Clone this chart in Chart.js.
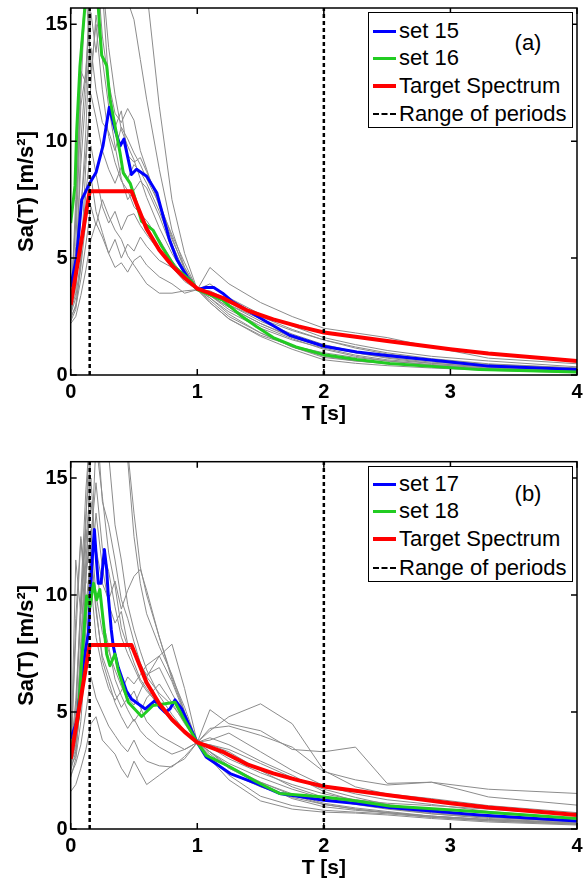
<!DOCTYPE html>
<html>
<head>
<meta charset="utf-8">
<script src="https://cdn.jsdelivr.net/npm/chart.js@4.4.0/dist/chart.umd.min.js"></script>
<style>
  body { margin: 0; background: #fff; width: 583px; height: 884px; position: relative; overflow: hidden;
         font-family: "Liberation Sans", Arial, sans-serif; }
  .panel { position: absolute; left: 0; width: 583px; }
  #panelA { top: 0; height: 427px; }
  #panelB { top: 440px; height: 441px; }
  .legend { position: absolute; left: 368px; width: 205px; height: 116px; border: 1.5px solid #000;
            box-sizing: border-box; background: #fff; font-size: 22px; color: #000; }
  .row { position: absolute; left: 4px; height: 28px; line-height: 28px; white-space: nowrap; }
  .swatch { display: inline-block; width: 23px; vertical-align: middle; margin-right: 3px; position: relative; top: -1px; }
  .tag { position: absolute; left: 159px; font-size: 22px; transform: translate(-50%, -50%); }
</style>
</head>
<body>
<div class="panel" id="panelA"><canvas id="chartA" width="583" height="427"></canvas></div>
<div class="panel" id="panelB"><canvas id="chartB" width="583" height="441"></canvas></div>

<div class="legend" style="top:12px">
  <div class="row" style="top:4px"><span class="swatch" style="border-top:3px solid #0000ff"></span>set 15</div>
  <div class="row" style="top:31px"><span class="swatch" style="border-top:3px solid #22cc22"></span>set 16</div>
  <div class="row" style="top:59px"><span class="swatch" style="border-top:4px solid #ff0000"></span>Target Spectrum</div>
  <div class="row" style="top:87px"><span class="swatch" style="border-top:2.5px dashed #000"></span>Range of periods</div>
  <div class="tag" style="top:30px">(a)</div>
</div>
<div class="legend" style="top:466px">
  <div class="row" style="top:3px"><span class="swatch" style="border-top:3px solid #0000ff"></span>set 17</div>
  <div class="row" style="top:30px"><span class="swatch" style="border-top:3px solid #22cc22"></span>set 18</div>
  <div class="row" style="top:58px"><span class="swatch" style="border-top:4px solid #ff0000"></span>Target Spectrum</div>
  <div class="row" style="top:87px"><span class="swatch" style="border-top:2.5px dashed #000"></span>Range of periods</div>
  <div class="tag" style="top:27px">(b)</div>
</div>

<script>
// Axis ticks
const xTicks = [0, 1, 2, 3, 4];
const yTicks = [0, 5, 10, 15];

// Periods used by the individual (gray) records
const periods = [0, 0.04, 0.08, 0.12, 0.16, 0.2, 0.25, 0.3, 0.35, 0.4, 0.45, 0.5, 0.55, 0.6, 0.7, 0.8, 0.9, 1.0,
  1.1, 1.25, 1.5, 1.75, 2.0, 2.25, 2.5, 2.85, 3.3, 4.0];

// Range of periods (dotted lines)
const rangeT = [0.15, 2.0];

// Target spectrum
const targetT = [0, 0.15, 0.48, 0.6, 0.7, 0.8, 0.9, 1.0, 1.2, 1.4, 1.6, 1.8, 2.0, 2.5, 3.0, 3.3, 4.0];
const targetSa = [3.0, 7.86, 7.86, 6.25, 5.35, 4.68, 4.15, 3.7, 3.3, 2.75, 2.38, 2.08, 1.82, 1.45, 1.1, 0.92, 0.6];

// Panel (a): mean spectra
const set15T = [0, 0.047, 0.087, 0.15, 0.2, 0.255, 0.305, 0.35, 0.39, 0.42, 0.48, 0.52, 0.6, 0.68, 0.73, 0.78, 0.84,
  0.92, 1.0, 1.06, 1.13, 1.2, 1.28, 1.39, 1.55, 1.73, 2.0, 2.26, 2.5, 3.0, 3.3, 4.0];
const set15Sa = [3.78, 5.07, 7.5, 8.2, 8.66, 9.8, 11.45, 10.5, 9.8, 10.09, 8.58, 8.8, 8.5, 7.8, 6.8, 5.79, 4.93,
  4.2, 3.65, 3.74, 3.74, 3.5, 3.13, 2.78, 2.27, 1.7, 1.23, 0.98, 0.83, 0.56, 0.38, 0.23];
const set16T = [0, 0.034, 0.047, 0.073, 0.1, 0.113, 0.16, 0.218, 0.245, 0.284, 0.31, 0.35, 0.39, 0.415, 0.47, 0.5,
  0.56, 0.65, 0.72, 0.82, 0.955, 1.0, 1.2, 1.34, 1.47, 1.6, 1.78, 2.0, 2.26, 2.52, 3.23, 4.0];
const set16Sa = [6.5, 8.1, 10.4, 13.2, 14.96, 15.8, 18.5, 15.7, 13.67, 13.24, 11.8, 10.66, 9.5, 8.65, 8.2, 7.7,
  6.57, 6.2, 5.5, 4.64, 3.99, 3.65, 3.2, 2.56, 2.06, 1.6, 1.2, 0.87, 0.66, 0.49, 0.23, 0.13];

// Panel (a): individual records
const recordsA = [
  [2.4, 4.5, 9.0, 12, 18, 21, 17, 14, 12, 10.5, 9.8, 9.2, 8.4, 7.6, 6.3, 5.2, 4.3, 3.65, 3.3, 2.7, 2.0, 1.5, 1.15, 0.85, 0.65, 0.5, 0.35, 0.22],
  [2.7, 3.5, 6.8, 10.5, 15.5, 13.8, 16.5, 12.5, 11.2, 10.8, 11.4, 10.9, 9.6, 8.8, 7.2, 5.8, 4.6, 3.65, 3.5, 3.0, 2.4, 1.9, 1.5, 1.2, 0.95, 0.7, 0.48, 0.3],
  [3.0, 6.5, 12, 17, 19, 22, 24, 25, 23, 21, 20, 19, 18, 16.5, 11.5, 7.5, 5.2, 3.65, 3.1, 2.4, 1.7, 1.25, 0.95, 0.75, 0.6, 0.45, 0.3, 0.18],
  [2.2, 2.5, 3.4, 4.5, 5.8, 6.5, 5.9, 5.2, 4.6, 4.8, 4.4, 4.9, 5.1, 4.7, 4.2, 3.9, 3.5, 3.65, 3.4, 2.9, 2.2, 1.6, 1.2, 0.95, 0.75, 0.55, 0.4, 0.25],
  [2.5, 2.9, 4.1, 5.6, 7.2, 6.4, 7.5, 6.8, 6.2, 5.8, 5.1, 4.7, 4.3, 3.9, 3.5, 3.5, 3.6, 3.65, 4.6, 3.9, 3.1, 2.5, 2.0, 1.8, 1.6, 1.2, 0.72, 0.48],
  [2.9, 5.5, 11.5, 13, 16, 18, 14.5, 12.5, 10.6, 11.3, 9.4, 9.1, 9.3, 8.7, 7.4, 5.9, 4.5, 3.65, 3.4, 2.8, 2.1, 1.55, 1.1, 0.8, 0.6, 0.42, 0.28, 0.15],
  [3.3, 4.6, 7.2, 9.5, 12, 11, 9.6, 8.8, 8.2, 8.9, 8.4, 9.0, 8.7, 8.2, 7.0, 5.6, 4.4, 3.65, 3.3, 2.6, 1.8, 1.2, 0.75, 0.6, 0.5, 0.38, 0.27, 0.16],
  [2.6, 3.3, 5.0, 7.8, 9.8, 8.6, 7.2, 6.5, 7.0, 6.2, 6.8, 6.9, 6.4, 6.0, 5.3, 4.6, 4.0, 3.65, 3.6, 3.2, 2.5, 1.95, 1.5, 1.15, 0.9, 0.65, 0.45, 0.3],
  [2.8, 3.8, 10, 13, 17, 19, 20.5, 18, 17.5, 16.5, 16, 15.2, 13.5, 11.8, 8.8, 6.2, 4.6, 3.65, 3.2, 2.5, 1.8, 1.2, 0.8, 0.6, 0.48, 0.36, 0.24, 0.12],
  [2.4, 3.0, 4.6, 6.6, 8.5, 7.0, 6.1, 5.2, 5.8, 5.0, 5.6, 5.3, 5.9, 5.5, 4.9, 4.6, 4.2, 3.65, 3.5, 3.0, 2.3, 1.75, 1.3, 1.0, 0.8, 0.6, 0.4, 0.25],
  [3.1, 6.8, 13, 12.5, 14, 12.2, 10.8, 10.4, 9.6, 10.6, 10.1, 9.5, 9.0, 8.4, 7.3, 6.0, 4.8, 3.65, 3.9, 3.3, 2.6, 2.1, 1.6, 1.3, 1.05, 0.8, 0.6, 0.35],
  [2.3, 2.8, 4.8, 9.0, 12.5, 15.4, 13.5, 11.5, 9.8, 8.4, 7.5, 7.9, 8.3, 8.0, 6.8, 5.4, 4.4, 3.65, 3.1, 2.4, 1.65, 1.1, 0.65, 0.5, 0.4, 0.3, 0.2, 0.1],
  [2.6, 7.5, 14, 16.5, 13, 15, 12.2, 10.2, 9.1, 8.3, 7.9, 7.2, 6.9, 6.6, 5.8, 4.9, 4.2, 3.65, 3.4, 2.9, 2.2, 1.65, 1.25, 0.95, 0.72, 0.5, 0.33, 0.2]
];

// Panel (b): mean spectra
const set17T = [0, 0.05, 0.073, 0.1, 0.14, 0.166, 0.187, 0.205, 0.218, 0.24, 0.266, 0.284, 0.297, 0.32, 0.336, 0.35,
  0.376, 0.44, 0.48, 0.59, 0.666, 0.705, 0.745, 0.784, 0.824, 0.877, 0.955, 1.0, 1.07, 1.26, 1.47, 1.65, 2.0, 2.26,
  2.52, 3.23, 4.0];
const set17Sa = [3.87, 4.6, 5.8, 7.05, 8.4, 11.2, 12.8, 11.4, 10.5, 10.5, 11.95, 11.1, 9.96, 8.54, 7.83, 7.48,
  6.9, 5.9, 5.56, 5.13, 5.49, 5.2, 4.99, 5.13, 5.52, 5.13, 4.21, 3.7, 3.08, 2.37, 1.94, 1.52, 1.23, 1.09,
  0.92, 0.6, 0.34];
const set18T = [0, 0.06, 0.087, 0.126, 0.152, 0.18, 0.205, 0.23, 0.25, 0.27, 0.284, 0.31, 0.35, 0.376, 0.455, 0.56,
  0.65, 0.745, 0.824, 0.9, 1.0, 1.07, 1.26, 1.47, 1.65, 2.0, 2.26, 2.52, 3.23, 4.0];
const set18Sa = [3.36, 4.78, 7.2, 9.96, 9.5, 10.5, 9.8, 10.24, 9.25, 8.26, 7.48, 6.98, 7.48, 6.77, 5.42, 4.81,
  5.28, 5.35, 5.42, 4.64, 3.7, 3.15, 2.65, 2.01, 1.52, 1.37, 1.2, 0.98, 0.74, 0.45];

// Panel (b): individual records
const recordsB = [
  [1.6, 1.9, 2.6, 3.4, 4.5, 4.8, 3.8, 3.5, 3.2, 2.6, 2.2, 2.9, 2.4, 1.9, 2.3, 2.7, 3.0, 3.7, 3.6, 3.3, 2.5, 1.8, 1.35, 1.1, 0.9, 0.7, 0.5, 0.3],
  [2.5, 9.0, 12.5, 10.5, 16.5, 18, 14, 13, 11.5, 9.8, 9.0, 8.0, 7.1, 6.5, 5.8, 5.3, 4.6, 3.7, 3.2, 2.6, 2.0, 1.5, 1.1, 0.9, 0.75, 0.55, 0.4, 0.25],
  [2.8, 3.4, 5.5, 8.5, 12, 9.5, 7.2, 6.3, 5.4, 4.8, 4.3, 4.7, 4.2, 3.9, 3.5, 3.2, 3.4, 3.7, 4.2, 4.8, 5.35, 4.5, 2.5, 1.8, 1.5, 1.3, 1.0, 0.7],
  [2.7, 3.1, 6.0, 11.0, 12.8, 10, 8.4, 7.6, 6.8, 6.1, 5.5, 5.9, 5.2, 4.6, 4.0, 3.7, 3.4, 3.7, 5.1, 4.5, 4.2, 3.4, 3.3, 3.5, 1.95, 2.0, 1.37, 1.02],
  [2.2, 3.0, 4.6, 7.5, 10.5, 8.2, 6.9, 6.0, 5.5, 5.9, 6.5, 6.2, 6.6, 7.0, 7.4, 7.9, 6.0, 3.7, 3.0, 2.4, 1.8, 1.35, 1.05, 0.85, 0.7, 0.55, 0.4, 0.25],
  [3.2, 5.5, 9.6, 13.0, 19, 23, 22, 20, 18.5, 17, 16.2, 13.5, 11.2, 10, 8.2, 6.4, 5.0, 3.7, 4.3, 4.4, 4.0, 3.5, 2.45, 2.1, 1.88, 2.0, 1.7, 1.52],
  [3.0, 4.2, 7.5, 11.5, 14.0, 12, 10.5, 9.8, 10.6, 9.4, 10.2, 10.8, 11.1, 10.2, 8.2, 6.5, 5.2, 3.7, 3.3, 2.8, 2.2, 1.7, 1.3, 1.05, 0.85, 0.65, 0.5, 0.3],
  [2.3, 2.8, 3.6, 5.0, 6.5, 5.6, 5.0, 4.4, 4.0, 3.6, 3.3, 3.8, 3.2, 2.9, 2.7, 2.65, 3.1, 3.7, 3.9, 3.6, 2.9, 2.3, 1.6, 1.2, 0.9, 0.65, 0.45, 0.25],
  [2.6, 3.8, 8.0, 12.2, 15.0, 11.5, 9.0, 7.8, 6.4, 5.7, 5.1, 4.6, 5.0, 5.6, 6.2, 5.4, 4.5, 3.7, 3.5, 3.0, 2.4, 1.9, 1.5, 1.25, 1.1, 1.0, 0.85, 0.6],
  [2.9, 4.8, 10.0, 14.5, 17.5, 20, 18.5, 16, 13, 11.5, 9.6, 8.5, 7.6, 6.8, 5.7, 4.9, 4.2, 3.7, 3.1, 2.3, 1.4, 1.0, 0.8, 0.72, 0.65, 0.5, 0.35, 0.2],
  [3.4, 5.0, 9.2, 13.5, 16.0, 18, 21, 19.5, 18, 17, 15.8, 12.5, 10.5, 9.2, 7.8, 6.6, 5.0, 3.7, 3.0, 2.1, 1.2, 0.85, 0.72, 0.68, 0.6, 0.45, 0.3, 0.17],
  [2.5, 3.3, 5.5, 9.0, 11.5, 9.3, 7.4, 6.6, 5.8, 5.2, 5.6, 5.3, 5.9, 6.5, 7.4, 6.3, 4.9, 3.7, 3.3, 2.6, 1.9, 1.3, 0.95, 0.8, 0.7, 0.55, 0.4, 0.22],
  [2.8, 3.6, 6.5, 10.8, 12.5, 14.8, 12.0, 11.0, 9.5, 8.2, 7.5, 6.9, 6.3, 5.9, 5.3, 4.7, 4.2, 3.7, 3.8, 4.1, 3.3, 2.5, 1.85, 1.5, 1.25, 1.05, 0.75, 0.45],
  [2.6, 11.5, 9.2, 12.8, 10.8, 13.5, 11.2, 9.6, 8.8, 9.3, 7.9, 7.1, 6.4, 6.0, 5.2, 4.6, 4.1, 3.7, 3.3, 2.7, 2.0, 1.45, 1.05, 0.85, 0.7, 0.5, 0.35, 0.2],
  [3.0, 8.2, 12.4, 9.5, 11.8, 16.5, 14.2, 11.8, 10.4, 8.6, 7.8, 7.6, 7.0, 6.6, 6.9, 5.8, 4.8, 3.7, 3.6, 3.4, 2.8, 2.2, 1.7, 1.35, 1.05, 0.8, 0.55, 0.35]
];

const Y_MAX = 15.7;

function pts(ts, vs) {
  return ts.map((t, i) => ({ x: t, y: vs[i] }));
}

// Frame with inward ticks (matlab style)
const frameTicks = {
  id: "frameTicks",
  afterDatasetsDraw(chart) {
    const { ctx, chartArea: a, scales } = chart;
    ctx.save();
    ctx.strokeStyle = "#000";
    ctx.lineWidth = 1.5;
    ctx.beginPath();
    xTicks.forEach((v) => {
      const px = scales.x.getPixelForValue(v);
      ctx.moveTo(px, a.bottom); ctx.lineTo(px, a.bottom - 6);
      ctx.moveTo(px, a.top); ctx.lineTo(px, a.top + 6);
    });
    yTicks.forEach((v) => {
      const py = scales.y.getPixelForValue(v);
      ctx.moveTo(a.left, py); ctx.lineTo(a.left + 6, py);
      ctx.moveTo(a.right, py); ctx.lineTo(a.right - 6, py);
    });
    ctx.stroke();
    ctx.strokeRect(a.left, a.top, a.right - a.left, a.bottom - a.top);
    ctx.restore();
  },
};

function makeChart(id, topPad, records, blueT, blueSa, greenT, greenSa) {
  const datasets = [];
  // Range of periods
  rangeT.forEach((t) => {
    datasets.push({
      data: [{ x: t, y: 0 }, { x: t, y: Y_MAX }],
      borderColor: "#000", borderWidth: 2.5, borderDash: [4, 3],
    });
  });
  datasets.push({ data: pts(targetT, targetSa), borderColor: "#ff0000", borderWidth: 4 });
  datasets.push({ data: pts(greenT, greenSa), borderColor: "#22cc22", borderWidth: 3 });
  datasets.push({ data: pts(blueT, blueSa), borderColor: "#0000ff", borderWidth: 3 });
  records.forEach((r) => {
    datasets.push({ data: pts(periods, r), borderColor: "#8c8c8c", borderWidth: 1 });
  });

  const ctx = document.getElementById(id).getContext("2d");
  return new Chart(ctx, {
    type: "line",
    data: { datasets },
    options: {
      responsive: false,
      animation: false,
      events: [],
      layout: { padding: { top: topPad, right: 6, left: 0, bottom: 0 } },
      elements: { point: { radius: 0 }, line: { tension: 0, borderJoinStyle: "round" } },
      plugins: { legend: { display: false }, tooltip: { enabled: false } },
      datasets: { line: { clip: 0 } },
      scales: {
        x: {
          type: "linear", min: 0, max: 4,
          afterBuildTicks: (s) => { s.ticks = xTicks.map((v) => ({ value: v })); },
          afterFit: (s) => { s.height = 52; s.paddingLeft = 0; s.paddingRight = 0; },
          grid: { display: false, drawTicks: false },
          border: { display: false },
          ticks: { color: "#000", padding: 5, maxRotation: 0, autoSkip: false,
                   font: { family: "Liberation Sans", size: 20, weight: "bold" } },
          title: { display: true, text: "T [s]", color: "#000", padding: { top: 0, bottom: 0 },
                   font: { family: "Liberation Sans", size: 21, weight: "bold" } },
        },
        y: {
          type: "linear", min: 0, max: Y_MAX,
          afterBuildTicks: (s) => { s.ticks = yTicks.map((v) => ({ value: v })); },
          afterFit: (s) => { s.width = 70.7; s.paddingTop = 0; s.paddingBottom = 0; },
          grid: { display: false, drawTicks: false },
          border: { display: false },
          ticks: { color: "#000", padding: 3, font: { family: "Liberation Sans", size: 20, weight: "bold" } },
          title: { display: true, text: "Sa(T) [m/s²]", color: "#000", padding: { top: 14, bottom: 0 },
                   font: { family: "Liberation Sans", size: 22, weight: "bold" } },
        },
      },
    },
    plugins: [frameTicks],
  });
}

makeChart("chartA", 8, recordsA, set15T, set15Sa, set16T, set16Sa);
makeChart("chartB", 21.7, recordsB, set17T, set17Sa, set18T, set18Sa);
</script>
</body>
</html>
